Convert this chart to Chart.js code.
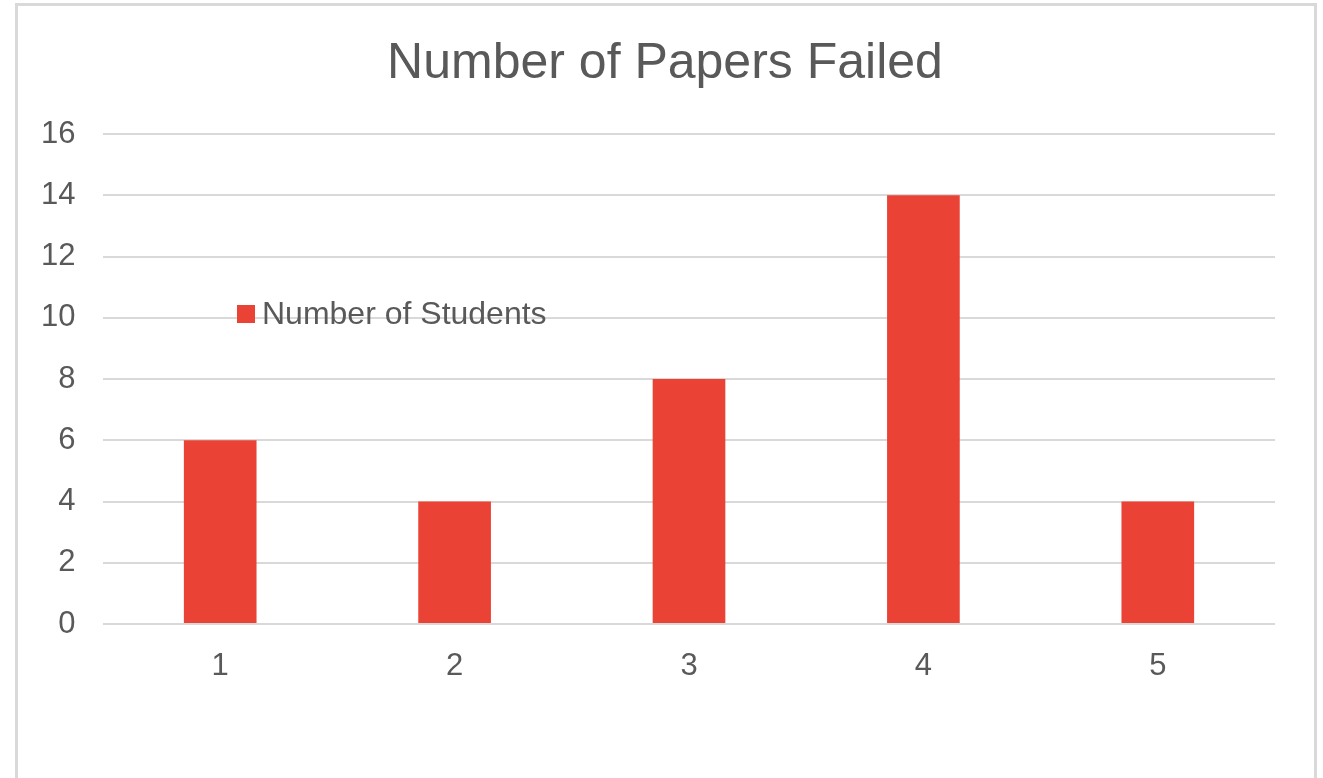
<!DOCTYPE html>
<html>
<head>
<meta charset="utf-8">
<script src="https://cdn.jsdelivr.net/npm/chart.js@4"></script>
<style>
  html, body { margin: 0; padding: 0; background: #fff; overflow: hidden; }
  #frame {
    position: absolute; left: 15px; top: 3px; width: 1296px; height: 900px;
    border: 3px solid #d9d9d9; box-sizing: content-box;
  }
  #chart { position: absolute; left: 0; top: 0; }
</style>
</head>
<body>
<div id="frame"></div>
<canvas id="chart" width="1323" height="778"></canvas>
<script>
const categories = ["1", "2", "3", "4", "5"]
const students = [6, 4, 8, 14, 4]
const yTicks = [0, 2, 4, 6, 8, 10, 12, 14, 16]

const TEXT = "#595959"
const GRID = "#d9d9d9"
const RED = "rgb(234,67,53)"
const FONT = "'Liberation Sans', Arial, sans-serif"

// legend sits inside the plot, like the Excel original
const innerLegend = {
  id: "innerLegend",
  afterDraw(chart) {
    const ctx = chart.ctx
    const ds = chart.data.datasets[0]
    const x = 237, y = 314
    ctx.save()
    ctx.fillStyle = ds.backgroundColor
    ctx.fillRect(x, y - 9, 18, 18)
    ctx.fillStyle = TEXT
    ctx.font = "32px " + FONT
    ctx.textBaseline = "middle"
    ctx.fillText(ds.label, x + 25, y + 1)
    ctx.restore()
  },
}

new Chart(document.getElementById("chart"), {
  type: "bar",
  data: {
    labels: categories,
    datasets: [{
      label: "Number of Students",
      data: students,
      backgroundColor: RED,
      barPercentage: 0.31,
      categoryPercentage: 1,
    }],
  },
  options: {
    responsive: false,
    animation: false,
    layout: { padding: { left: 55, right: 48, top: 0, bottom: 0 } },
    scales: {
      x: {
        grid: { display: false },
        border: { display: false },
        ticks: { color: TEXT, font: { family: FONT, size: 31 }, padding: 16 },
        afterFit: (s) => { s.height = 154 },
      },
      y: {
        min: 0,
        max: 16,
        afterBuildTicks: (s) => { s.ticks = yTicks.map(v => ({ value: v })) },
        grid: { color: GRID, lineWidth: 2, drawTicks: false },
        border: { display: false },
        // mirror so the labels are not clipped to the narrow axis box
        ticks: {
          color: TEXT, font: { family: FONT, size: 31 },
          mirror: true, crossAlign: "far", padding: -62,
        },
        afterFit: (s) => { s.width = 48 },
      },
    },
    plugins: {
      legend: { display: false },
      tooltip: { enabled: false },
      title: {
        display: true,
        text: "Number of Papers Failed",
        color: TEXT,
        font: { family: FONT, size: 50, weight: "normal" },
        padding: { top: 34, bottom: 40 },
      },
    },
  },
  plugins: [innerLegend],
})
</script>
</body>
</html>
